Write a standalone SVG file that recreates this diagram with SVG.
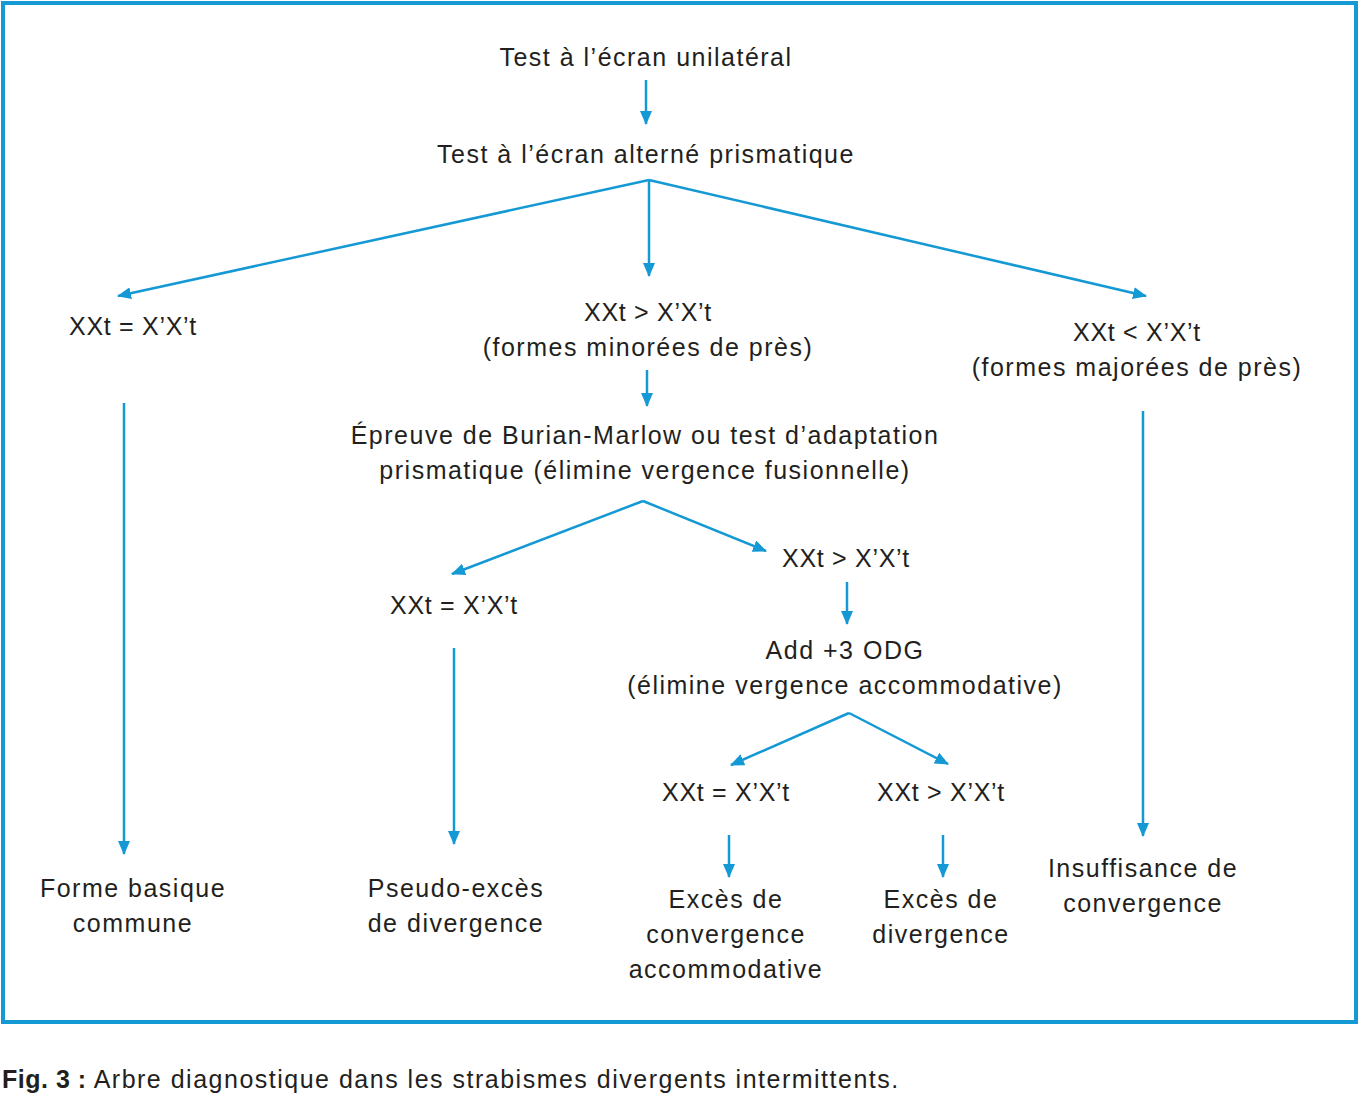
<svg xmlns="http://www.w3.org/2000/svg" width="1359" height="1093" viewBox="0 0 1359 1093">
<defs>
<marker id="ah" viewBox="0 0 14 12" refX="13" refY="6" markerWidth="14" markerHeight="12" markerUnits="userSpaceOnUse" orient="auto">
<path d="M0,0 L14,6 L0,12 Z" fill="#1499d5"/>
</marker>
</defs>
<style>
text{font-family:"Liberation Sans","DejaVu Sans",sans-serif;font-size:25px;letter-spacing:1.5px;fill:#231f20;text-anchor:middle}
.x{letter-spacing:0.7px}
.c{fill:none;stroke:#1499d5;stroke-width:2.5;marker-end:url(#ah)}
.cap{text-anchor:start}
</style>
<rect x="3" y="3" width="1353" height="1019" fill="#fff" stroke="#1499d5" stroke-width="4"/>
<g id="connectors">
<line class="c" x1="646" y1="80" x2="646" y2="124"/>
<line class="c" x1="649" y1="180" x2="118" y2="296"/>
<line class="c" x1="649" y1="180" x2="649" y2="276"/>
<line class="c" x1="649" y1="180" x2="1146" y2="296"/>
<line class="c" x1="647" y1="370" x2="647" y2="406"/>
<line class="c" x1="643" y1="501" x2="452" y2="574"/>
<line class="c" x1="643" y1="501" x2="766" y2="551"/>
<line class="c" x1="847" y1="582" x2="847" y2="624"/>
<line class="c" x1="849" y1="713" x2="731" y2="765"/>
<line class="c" x1="849" y1="713" x2="948" y2="764"/>
<line class="c" x1="729" y1="835" x2="729" y2="877"/>
<line class="c" x1="943" y1="835" x2="943" y2="877"/>
<line class="c" x1="124" y1="403" x2="124" y2="854"/>
<line class="c" x1="454" y1="648" x2="454" y2="844"/>
<line class="c" x1="1143" y1="411" x2="1143" y2="836"/>
</g>
<g id="n1"><text x="646" y="66">Test à l’écran unilatéral</text></g>
<g id="n2"><text x="646" y="163">Test à l’écran alterné prismatique</text></g>
<g id="n3"><text class="x" x="133" y="335">XXt = X’X’t</text></g>
<g id="n4"><text class="x" x="648" y="321">XXt &gt; X’X’t</text><text x="648" y="356">(formes minorées de près)</text></g>
<g id="n5"><text class="x" x="1137" y="341">XXt &lt; X’X’t</text><text x="1137" y="376">(formes majorées de près)</text></g>
<g id="n6"><text x="645" y="444">Épreuve de Burian-Marlow ou test d’adaptation</text><text x="645" y="479">prismatique (élimine vergence fusionnelle)</text></g>
<g id="n7"><text class="x" x="454" y="614">XXt = X’X’t</text></g>
<g id="n8"><text class="x" x="846" y="567">XXt &gt; X’X’t</text></g>
<g id="n9"><text x="845" y="659">Add +3 ODG</text><text x="845" y="694">(élimine vergence accommodative)</text></g>
<g id="n10"><text class="x" x="726" y="801">XXt = X’X’t</text></g>
<g id="n11"><text class="x" x="941" y="801">XXt &gt; X’X’t</text></g>
<g id="n12"><text x="726" y="908">Excès de</text><text x="726" y="943">convergence</text><text x="726" y="978">accommodative</text></g>
<g id="n13"><text x="941" y="908">Excès de</text><text x="941" y="943">divergence</text></g>
<g id="n14"><text x="133" y="897">Forme basique</text><text x="133" y="932">commune</text></g>
<g id="n15"><text x="456" y="897">Pseudo-excès</text><text x="456" y="932">de divergence</text></g>
<g id="n16"><text x="1143" y="877">Insuffisance de</text><text x="1143" y="912">convergence</text></g>
<g id="caption"><text class="cap" x="2" y="1088"><tspan font-weight="bold" letter-spacing="0.5">Fig. 3 :</tspan> Arbre diagnostique dans les strabismes divergents intermittents.</text></g>
</svg>
